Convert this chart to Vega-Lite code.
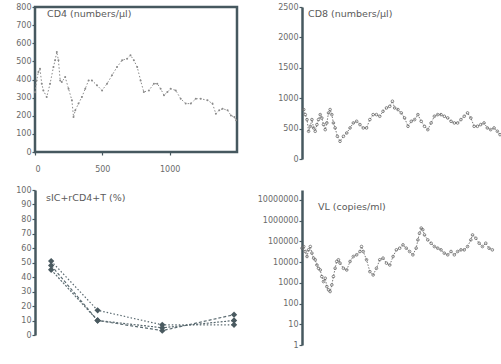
{
  "$schema": "https://vega.github.io/schema/vega-lite/v6.json",
  "autosize": {"type": "pad"},
  "padding": {"left": 14, "top": 1, "right": 0, "bottom": 0},
  "background": "#ffffff",
  "bounds": "flush",
  "columns": 2,
  "spacing": {"column": 65, "row": 31},
  "config": {
    "font": "DejaVu Sans",
    "axis": {"labelFont": "DejaVu Sans", "labelFontSize": 8, "labelColor": "#6a6a6a", "domainColor": "#46585f", "domainWidth": 2.5, "tickColor": "#46585f", "tickSize": 3, "tickWidth": 1.2, "grid": false, "title": null, "labelPadding": 1, "format": "d"},
    "view": {"stroke": null},
    "title": {"font": "DejaVu Sans", "fontSize": 9.5, "fontWeight": "normal", "color": "#5a5a5a", "anchor": "start", "frame": "group", "orient": "top"}
  },
  "datasets": {
    "cd4": [
      {"t": 0, "v": 330}, {"t": 12, "v": 395}, {"t": 25, "v": 441}, {"t": 37, "v": 460}, {"t": 50, "v": 377}, {"t": 62, "v": 340}, {"t": 87, "v": 303}, {"t": 112, "v": 377}, {"t": 137, "v": 469}, {"t": 149, "v": 506}, {"t": 162, "v": 552}, {"t": 174, "v": 506}, {"t": 187, "v": 395}, {"t": 199, "v": 386}, {"t": 224, "v": 414}, {"t": 249, "v": 349}, {"t": 274, "v": 285}, {"t": 286, "v": 193}, {"t": 299, "v": 230}, {"t": 323, "v": 267}, {"t": 348, "v": 303}, {"t": 373, "v": 349}, {"t": 398, "v": 395}, {"t": 423, "v": 395}, {"t": 460, "v": 368}, {"t": 498, "v": 340}, {"t": 535, "v": 377}, {"t": 572, "v": 423}, {"t": 609, "v": 469}, {"t": 647, "v": 506}, {"t": 684, "v": 515}, {"t": 709, "v": 534}, {"t": 734, "v": 506}, {"t": 759, "v": 469}, {"t": 784, "v": 395}, {"t": 808, "v": 331}, {"t": 846, "v": 340}, {"t": 883, "v": 377}, {"t": 908, "v": 377}, {"t": 933, "v": 349}, {"t": 958, "v": 313}, {"t": 983, "v": 331}, {"t": 1007, "v": 349}, {"t": 1045, "v": 340}, {"t": 1082, "v": 294}, {"t": 1119, "v": 267}, {"t": 1157, "v": 267}, {"t": 1194, "v": 294}, {"t": 1231, "v": 294}, {"t": 1281, "v": 285}, {"t": 1318, "v": 267}, {"t": 1343, "v": 211}, {"t": 1368, "v": 230}, {"t": 1393, "v": 239}, {"t": 1430, "v": 230}, {"t": 1455, "v": 202}, {"t": 1480, "v": 193}, {"t": 1493, "v": 175}
    ],
    "cd8": [
      {"t": 13, "v": 813}, {"t": 25, "v": 730}, {"t": 38, "v": 648}, {"t": 50, "v": 456}, {"t": 63, "v": 538}, {"t": 75, "v": 648}, {"t": 88, "v": 511}, {"t": 100, "v": 456}, {"t": 113, "v": 566}, {"t": 125, "v": 648}, {"t": 138, "v": 730}, {"t": 150, "v": 675}, {"t": 163, "v": 566}, {"t": 176, "v": 483}, {"t": 188, "v": 593}, {"t": 201, "v": 758}, {"t": 213, "v": 813}, {"t": 226, "v": 730}, {"t": 238, "v": 593}, {"t": 251, "v": 511}, {"t": 268, "v": 373}, {"t": 288, "v": 291}, {"t": 314, "v": 373}, {"t": 339, "v": 428}, {"t": 364, "v": 511}, {"t": 389, "v": 593}, {"t": 414, "v": 620}, {"t": 439, "v": 566}, {"t": 464, "v": 511}, {"t": 489, "v": 511}, {"t": 514, "v": 648}, {"t": 539, "v": 730}, {"t": 564, "v": 730}, {"t": 589, "v": 703}, {"t": 614, "v": 785}, {"t": 640, "v": 840}, {"t": 665, "v": 867}, {"t": 685, "v": 950}, {"t": 702, "v": 840}, {"t": 727, "v": 813}, {"t": 752, "v": 758}, {"t": 777, "v": 675}, {"t": 803, "v": 538}, {"t": 828, "v": 620}, {"t": 853, "v": 648}, {"t": 878, "v": 730}, {"t": 903, "v": 620}, {"t": 928, "v": 538}, {"t": 953, "v": 483}, {"t": 978, "v": 593}, {"t": 1003, "v": 703}, {"t": 1028, "v": 730}, {"t": 1053, "v": 730}, {"t": 1078, "v": 703}, {"t": 1104, "v": 675}, {"t": 1129, "v": 620}, {"t": 1154, "v": 593}, {"t": 1179, "v": 593}, {"t": 1204, "v": 648}, {"t": 1229, "v": 703}, {"t": 1254, "v": 758}, {"t": 1279, "v": 675}, {"t": 1304, "v": 538}, {"t": 1329, "v": 538}, {"t": 1354, "v": 566}, {"t": 1379, "v": 593}, {"t": 1404, "v": 511}, {"t": 1429, "v": 483}, {"t": 1455, "v": 511}, {"t": 1480, "v": 456}, {"t": 1500, "v": 401}
    ],
    "pct": [
      {"t": 120, "v": 51, "s": "a"}, {"t": 465, "v": 17, "s": "a"}, {"t": 945, "v": 7, "s": "a"}, {"t": 1478, "v": 7, "s": "a"},
      {"t": 120, "v": 48, "s": "b"}, {"t": 465, "v": 10, "s": "b"}, {"t": 945, "v": 3, "s": "b"}, {"t": 1478, "v": 14, "s": "b"},
      {"t": 120, "v": 45, "s": "c"}, {"t": 465, "v": 10, "s": "c"}, {"t": 945, "v": 5, "s": "c"}, {"t": 1478, "v": 10, "s": "c"}
    ],
    "vl": [
      {"t": 0, "v": 46800}, {"t": 13, "v": 56200}, {"t": 25, "v": 32400}, {"t": 38, "v": 18600}, {"t": 50, "v": 38900}, {"t": 63, "v": 56200}, {"t": 75, "v": 26900}, {"t": 88, "v": 15500}, {"t": 100, "v": 12900}, {"t": 113, "v": 7240}, {"t": 125, "v": 5010}, {"t": 138, "v": 4170}, {"t": 150, "v": 2000}, {"t": 163, "v": 1150}, {"t": 176, "v": 1660}, {"t": 188, "v": 661}, {"t": 201, "v": 457}, {"t": 213, "v": 380}, {"t": 226, "v": 794}, {"t": 238, "v": 2000}, {"t": 251, "v": 5010}, {"t": 263, "v": 10700}, {"t": 276, "v": 12900}, {"t": 288, "v": 8910}, {"t": 314, "v": 5010}, {"t": 339, "v": 4170}, {"t": 364, "v": 10700}, {"t": 389, "v": 18600}, {"t": 414, "v": 22400}, {"t": 439, "v": 32400}, {"t": 451, "v": 56200}, {"t": 464, "v": 32400}, {"t": 489, "v": 12900}, {"t": 514, "v": 3470}, {"t": 539, "v": 2400}, {"t": 564, "v": 5010}, {"t": 589, "v": 12900}, {"t": 614, "v": 15500}, {"t": 640, "v": 8910}, {"t": 665, "v": 7240}, {"t": 690, "v": 18600}, {"t": 715, "v": 38900}, {"t": 740, "v": 46800}, {"t": 765, "v": 67600}, {"t": 790, "v": 46800}, {"t": 815, "v": 32400}, {"t": 840, "v": 22400}, {"t": 865, "v": 46800}, {"t": 878, "v": 117500}, {"t": 890, "v": 245500}, {"t": 903, "v": 436500}, {"t": 915, "v": 363100}, {"t": 928, "v": 204200}, {"t": 953, "v": 117500}, {"t": 978, "v": 81300}, {"t": 1003, "v": 56200}, {"t": 1028, "v": 46800}, {"t": 1053, "v": 38900}, {"t": 1078, "v": 26900}, {"t": 1104, "v": 22400}, {"t": 1129, "v": 32400}, {"t": 1154, "v": 22400}, {"t": 1179, "v": 32400}, {"t": 1204, "v": 38900}, {"t": 1229, "v": 38900}, {"t": 1254, "v": 56200}, {"t": 1279, "v": 117500}, {"t": 1292, "v": 204200}, {"t": 1317, "v": 141300}, {"t": 1342, "v": 81300}, {"t": 1367, "v": 56200}, {"t": 1392, "v": 81300}, {"t": 1417, "v": 46800}, {"t": 1442, "v": 38900}
    ]
  },
  "concat": [
    {
      "width": 202, "height": 145,
      "view": {"stroke": "#46585f", "strokeWidth": 2.5},
      "title": {"text": "CD4 (numbers/µl)", "offset": -15, "dx": 12},
      "data": {"name": "cd4"},
      "mark": {"type": "line", "color": "#8a8a8a", "strokeWidth": 1, "strokeDash": [1.5, 2], "point": {"filled": true, "size": 4, "color": "#8a8a8a"}},
      "encoding": {
        "x": {"field": "t", "type": "quantitative", "scale": {"domain": [0, 1500], "nice": false}, "axis": {"values": [0, 500, 1000], "domain": false, "labelPadding": 10, "tickSize": 3}},
        "y": {"field": "v", "type": "quantitative", "scale": {"domain": [0, 800], "nice": false}, "axis": {"values": [0, 100, 200, 300, 400, 500, 600, 700, 800], "domain": false}}
      }
    },
    {
      "width": 198, "height": 152,
      "title": {"text": "CD8 (numbers/µl)", "offset": -15, "dx": 6},
      "data": {"name": "cd8"},
      "mark": {"type": "line", "color": "#7a7a7a", "strokeWidth": 1, "strokeDash": [1.5, 1.5], "point": {"filled": false, "size": 7, "strokeWidth": 0.8, "color": "#6a6a6a"}},
      "encoding": {
        "x": {"field": "t", "type": "quantitative", "scale": {"domain": [0, 1500], "nice": false}, "axis": null},
        "y": {"field": "v", "type": "quantitative", "scale": {"domain": [0, 2500], "nice": false}, "axis": {"values": [0, 500, 1000, 1500, 2000, 2500]}}
      }
    },
    {
      "width": 202, "height": 145,
      "title": {"text": "sIC+rCD4+T (%)", "offset": -16, "dx": 11},
      "data": {"name": "pct"},
      "mark": {"type": "line", "color": "#5a6a70", "strokeWidth": 1.2, "point": {"filled": true, "shape": "diamond", "size": 40, "color": "#4a5a60"}},
      "encoding": {
        "x": {"field": "t", "type": "quantitative", "scale": {"domain": [0, 1500], "nice": false}, "axis": null},
        "y": {"field": "v", "type": "quantitative", "scale": {"domain": [0, 100], "nice": false}, "axis": {"values": [0, 10, 20, 30, 40, 50, 60, 70, 80, 90, 100]}},
        "detail": {"field": "s"},
        "strokeDash": {"field": "s", "type": "nominal", "scale": {"domain": ["a", "b", "c"], "range": [[1.5, 2], [3, 2], [2, 1.5]]}, "legend": null}
      }
    },
    {
      "width": 198, "height": 155,
      "title": {"text": "VL (copies/ml)", "offset": -21, "dx": 16},
      "data": {"name": "vl"},
      "mark": {"type": "line", "color": "#7a7a7a", "strokeWidth": 1, "strokeDash": [1.5, 1.5], "point": {"filled": false, "size": 7, "strokeWidth": 0.8, "color": "#6a6a6a"}},
      "encoding": {
        "x": {"field": "t", "type": "quantitative", "scale": {"domain": [0, 1500], "nice": false}, "axis": null},
        "y": {"field": "v", "type": "quantitative", "scale": {"type": "log", "domain": [1, 30000000], "nice": false}, "axis": {"values": [1, 10, 100, 1000, 10000, 100000, 1000000, 10000000]}}
      }
    }
  ]
}
